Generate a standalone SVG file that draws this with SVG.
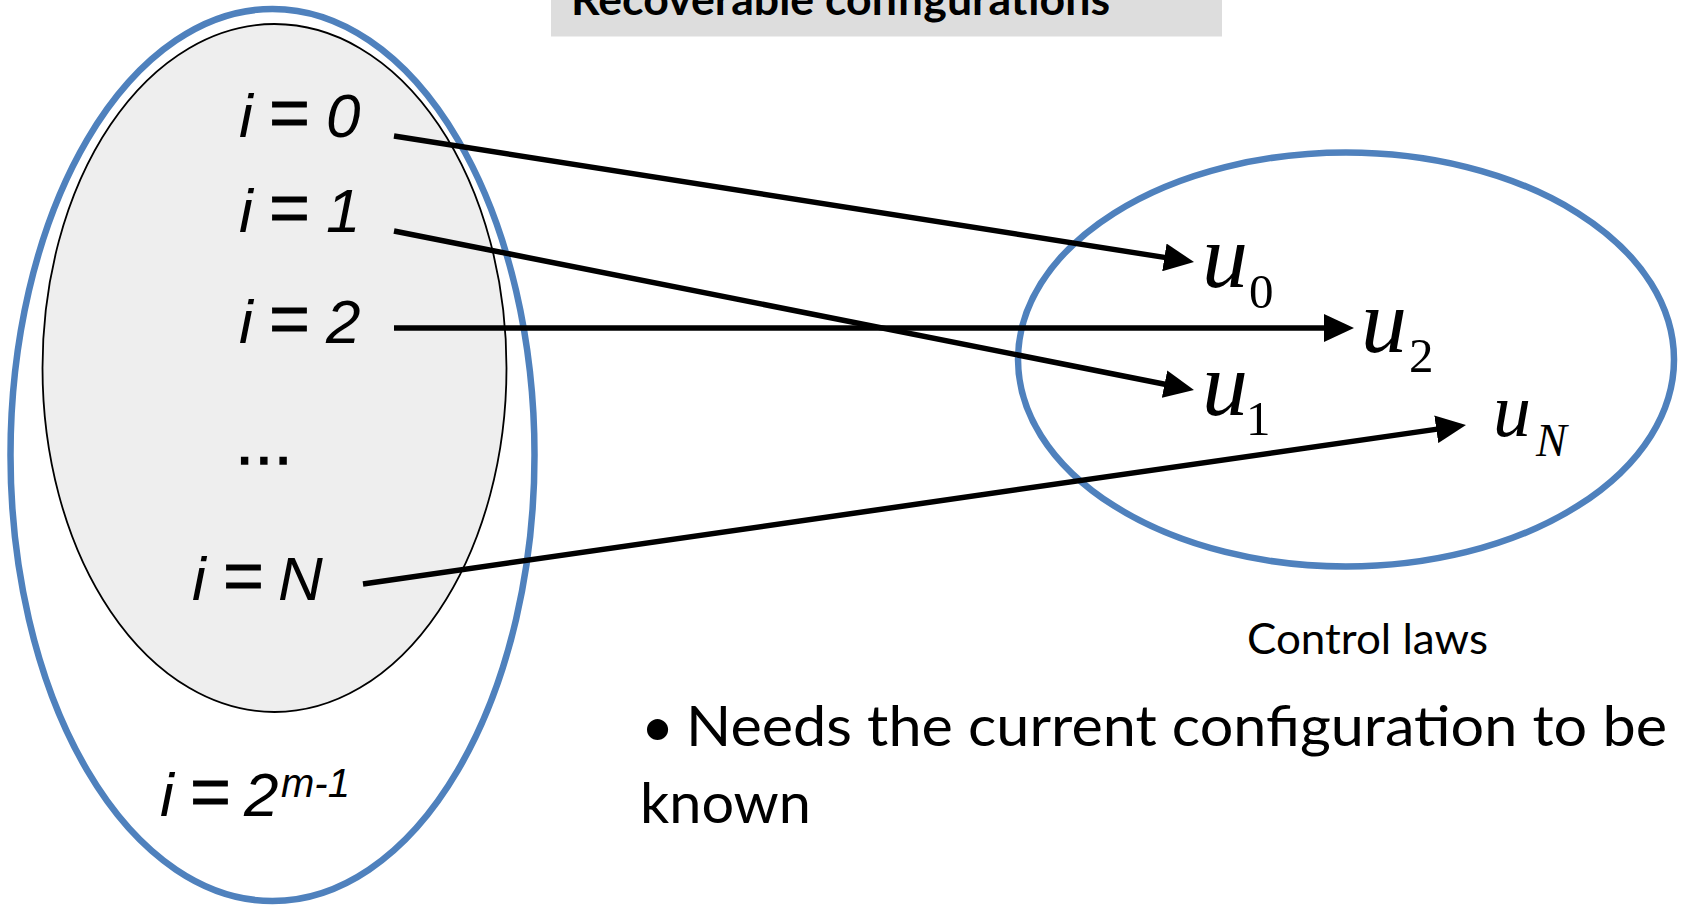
<svg xmlns="http://www.w3.org/2000/svg" width="1681" height="910" viewBox="0 0 1681 910">
  <style>
    .set { fill: none; stroke: #4F81BD; stroke-width: 6.5; }
    .sub { fill: #EEEEEE; stroke: #000; stroke-width: 1.8; }
    .eq { font-family: "Liberation Sans", Arial, sans-serif; font-size: 62px; fill: #000; }
    .it { font-style: italic; }
    .op { font-size: 70px; stroke: #000; stroke-width: 0.8; }
    .law { font-family: "Liberation Serif", "Times New Roman", serif; fill: #000; }
    .cal { font-family: Lato, "Open Sans", sans-serif; fill: #000; }
    .conn { stroke: #000; stroke-width: 5.5; fill: none; marker-end: url(#arrow); }
  </style>
  <defs>
    <marker id="arrow" viewBox="0 0 30 28" refX="8" refY="14" markerWidth="30" markerHeight="28" markerUnits="userSpaceOnUse" orient="auto">
      <path d="M0,0 L30,14 L0,28 Z" fill="#000"/>
    </marker>
  </defs>
  <rect width="1681" height="910" fill="#fff"/>

  <!-- title banner, cut at the top edge -->
  <g id="title">
    <rect x="551" y="-20" width="671" height="56.5" fill="#DDDDDD"/>
    <text class="cal" x="571" y="14.5" font-size="43" font-weight="bold" textLength="539" lengthAdjust="spacingAndGlyphs">Recoverable configurations</text>
  </g>

  <!-- all configurations -->
  <g id="configurations">
    <ellipse class="set" cx="272.5" cy="455" rx="262" ry="446"/>
    <text class="eq" y="816"><tspan class="it" x="160">i</tspan><tspan class="op" x="190">=</tspan><tspan class="it" x="244">2</tspan><tspan class="it" x="281" y="797" font-size="40">m-1</tspan></text>
  </g>

  <!-- recoverable subset -->
  <g id="recoverable">
    <ellipse class="sub" cx="274.5" cy="368" rx="232" ry="344"/>
    <text class="eq" y="137"><tspan class="it" x="239">i</tspan><tspan class="op" x="269">=</tspan><tspan class="it" x="326">0</tspan></text>
    <text class="eq" y="232"><tspan class="it" x="239">i</tspan><tspan class="op" x="269">=</tspan><tspan class="it" x="326">1</tspan></text>
    <text class="eq" y="343"><tspan class="it" x="239">i</tspan><tspan class="op" x="269">=</tspan><tspan class="it" x="326">2</tspan></text>
    <text class="eq" x="236" y="464" stroke="#000" stroke-width="1.5" letter-spacing="2">...</text>
    <text class="eq" y="600"><tspan class="it" x="192">i</tspan><tspan class="op" x="223">=</tspan><tspan class="it" x="278">N</tspan></text>
  </g>

  <!-- control laws -->
  <g id="control-laws">
    <ellipse class="set" cx="1346" cy="359.5" rx="328" ry="207"/>
    <text class="law" y="287"><tspan class="it" x="1202" font-size="92">u</tspan><tspan x="1249" y="308" font-size="49">0</tspan></text>
    <text class="law" y="352"><tspan class="it" x="1361" font-size="92">u</tspan><tspan x="1409" y="372" font-size="49">2</tspan></text>
    <text class="law" y="415"><tspan class="it" x="1202" font-size="92">u</tspan><tspan x="1246" y="435" font-size="49">1</tspan></text>
    <text class="law" y="436"><tspan class="it" x="1493" font-size="76">u</tspan><tspan class="it" x="1536" y="456" font-size="46">N</tspan></text>
    <text class="cal" x="1247" y="654" font-size="43" textLength="241" lengthAdjust="spacingAndGlyphs">Control laws</text>
  </g>

  <!-- note -->
  <g id="note">
    <text class="cal" x="641" y="746" font-size="57">•</text>
    <text class="cal" x="686" y="746" font-size="57" textLength="981" lengthAdjust="spacingAndGlyphs">Needs the current configuration to be</text>
    <text class="cal" x="640" y="823" font-size="57" textLength="171" lengthAdjust="spacingAndGlyphs">known</text>
  </g>

  <!-- mappings from configurations to control laws -->
  <g id="connectors">
    <line class="conn" x1="394" y1="136" x2="1172.3" y2="258.6"/>
    <line class="conn" x1="394" y1="231" x2="1172.4" y2="385.7"/>
    <line class="conn" x1="394" y1="328" x2="1332" y2="328"/>
    <line class="conn" x1="363" y1="584" x2="1444.2" y2="428.1"/>
  </g>
</svg>
